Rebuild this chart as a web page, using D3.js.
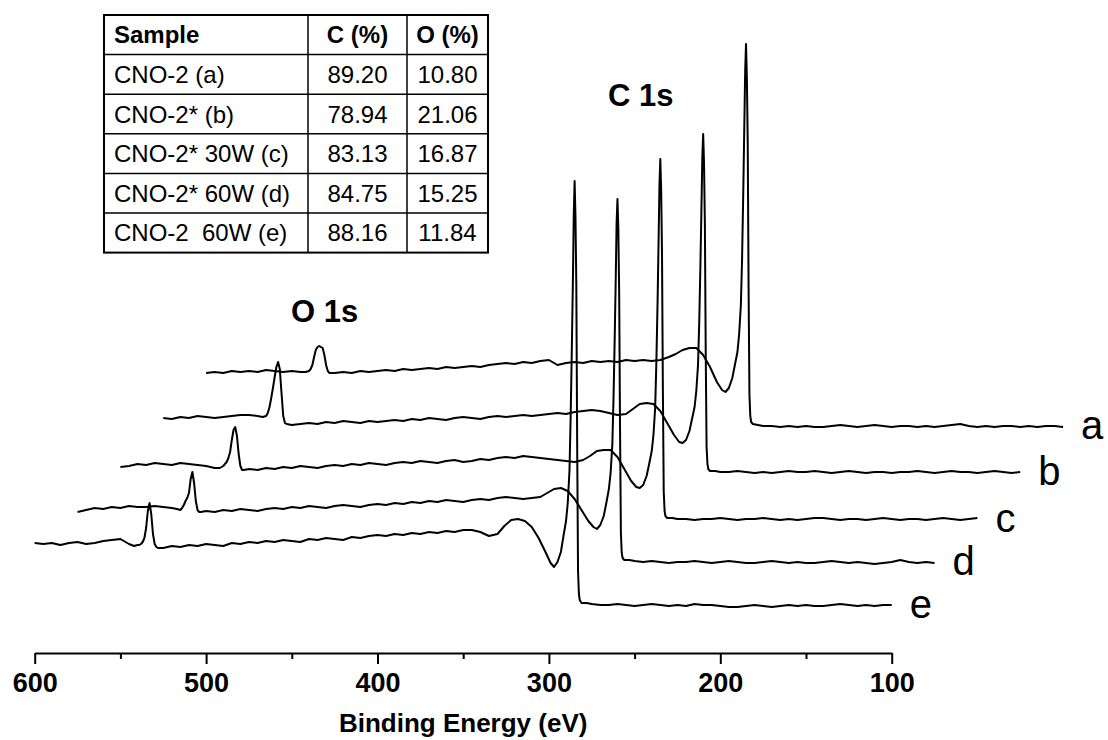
<!DOCTYPE html>
<html>
<head>
<meta charset="utf-8">
<script src="https://cdn.jsdelivr.net/npm/d3@7"></script>
<style>
  html, body { margin: 0; padding: 0; background: #fff; }
  svg { display: block; font-family: "Liberation Sans", Arial, Helvetica, sans-serif; }
</style>
</head>
<body>
<svg id="chart" width="1108" height="740"></svg>
<script>
// Binding-energy grid shared by all survey spectra (eV), dense around O 1s and C 1s
const energy = [
  600, 595, 590, 585, 580, 575, 570, 565, 560, 555, 550, 545,
  542, 540, 539, 538, 537, 536, 535, 534, 533, 532, 531, 530, 529, 528,
  525, 520, 515, 510, 505, 500, 495, 490, 485, 480, 475, 470, 465, 460, 455, 450, 445, 440, 435, 430,
  425, 420, 415, 410, 405, 400, 395, 390, 385, 380, 375, 370, 365, 360, 355, 350, 345, 340, 335,
  330, 326, 322, 318, 314, 310, 306, 302, 299, 297,
  295, 293, 291.5, 290, 289, 288, 287.3, 286.6, 286, 285.5, 285, 284.5, 284, 283.5, 283, 282.5, 282, 281,
  278, 275, 270, 265, 260, 255, 250, 245, 240, 235, 230, 225, 220, 215, 210, 205, 200, 195, 190, 185,
  180, 175, 170, 165, 160, 155, 150, 145, 140, 135, 130, 125, 120, 115, 110, 105, 100
];

// Intensity (a.u.) of each sample, relative to its own low-energy baseline
const intensityA = [
  54, 55, 54, 56, 55, 56, 55, 57, 56, 55, 56, 55,
  55, 56, 58, 62, 70, 77, 80, 81, 80, 79, 72, 62, 56, 54,
  54, 55, 54, 56, 55, 56, 57, 56, 58, 57, 58, 59, 58, 60, 59, 60, 61, 60, 62, 63,
  64, 63, 65, 64, 66, 67, 62, 64, 65, 64, 66, 65, 66, 65, 67, 66, 67, 66, 67,
  70, 73, 77, 79, 79, 72, 60, 45, 37, 35,
  39, 49, 62, 75, 93, 122, 168, 235, 300, 355, 383, 350, 285, 140, 32, 11, 5, 3,
  2, 1, 1, 0, 1, 0, 1, 0, 0, 1, 2, 1, 0, 1, 2, 1, 0, 1, 1, 0,
  1, 0, 1, 2, 3, 1, 0, 1, 0, 1, 1, 0, 1, 0, 1, 1, 0
];
const intensityB = [
  55, 54, 56, 55, 57, 56, 55, 56, 57, 58, 58, 57,
  56, 57, 60, 66, 75, 85, 96, 106, 111, 104, 80, 57, 50, 49,
  48, 49, 50, 49, 51, 50, 52, 51, 50, 52, 51, 52, 53, 52, 54, 53, 55, 54, 53, 55,
  56, 55, 54, 56, 57, 56, 57, 58, 57, 58, 59, 60, 59, 61, 62, 63, 62, 60, 58,
  59, 64, 69, 70, 69, 62, 50, 38, 31, 30,
  33, 42, 54, 66, 82, 108, 150, 208, 265, 315, 339, 310, 250, 120, 26, 9, 4, 2,
  2, 1, 1, 2, 1, 0, 1, 0, 1, 2, 1, 1, 2, 1, 0, 1, 2, 1, 0, 1,
  1, 0, 1, 1, 2, 1, 0, 1, 2, 1, 1, 0, 1, 2, 1, 0, 1
];
const intensityC = [
  53, 54, 56, 55, 57, 56, 55, 57, 56, 55, 54, 52,
  52, 54, 56, 58, 62, 68, 80, 90, 93, 84, 66, 54, 50, 50,
  51, 50, 52, 51, 53, 52, 54, 53, 52, 54, 55, 54, 56, 55, 57, 56, 55, 57, 58, 57,
  59, 58, 57, 59, 60, 58, 59, 61, 60, 62, 63, 62, 64, 63, 62, 61, 60, 59, 58,
  60, 64, 69, 70, 70, 63, 51, 39, 33, 32,
  35, 44, 56, 69, 85, 112, 158, 218, 280, 335, 361, 330, 265, 130, 28, 9, 4, 2,
  2, 1, 1, 0, 1, 1, 2, 1, 0, 1, 1, 2, 1, 0, 1, 0, 1, 2, 2, 1,
  0, 1, 1, 0, 1, 2, 1, 0, 1, 1, 0, 1, 2, 1, 0, 1, 2
];
const intensityD = [
  51, 53, 55, 54, 56, 55, 57, 56, 56, 57, 56, 55,
  54, 53, 55, 58, 62, 65, 70, 84, 91, 80, 62, 53, 51, 51,
  52, 51, 53, 52, 54, 53, 52, 54, 55, 54, 56, 55, 57, 56, 55, 57, 58, 57, 56, 58,
  59, 58, 60, 59, 61, 60, 62, 61, 63, 62, 61, 63, 64, 63, 65, 66, 65, 64, 65,
  66, 70, 74, 75, 72, 64, 53, 42, 36, 34,
  38, 47, 60, 74, 90, 118, 165, 225, 285, 340, 364, 335, 270, 135, 30, 10, 5, 3,
  3, 2, 1, 2, 1, 0, 1, 1, 2, 1, 0, 1, 2, 1, 0, 0, 1, 2, 1, 0,
  1, 0, 0, 1, 2, 1, 0, 1, 0, -1, 0, 1, 3, 1, 0, 1, 0
];
const intensityE = [
  63, 62, 63, 61, 63, 64, 62, 63, 65, 66, 67, 62,
  60, 61, 61, 62, 64, 68, 78, 95, 103, 92, 72, 62, 59, 58,
  58, 60, 59, 61, 60, 62, 61, 60, 63, 62, 64, 63, 65, 64, 66, 65, 64, 67, 66, 68,
  67, 66, 69, 68, 70, 71, 70, 72, 71, 73, 72, 74, 73, 75, 74, 76, 76, 74, 70,
  72, 80, 86, 87, 85, 79, 68, 54, 43, 39,
  44, 54, 70, 85, 103, 135, 190, 260, 325, 390, 425, 390, 320, 160, 35, 12, 6, 3,
  3, 2, 1, 1, 2, 1, 0, 1, 2, 1, 0, 1, 0, 2, 1, 1, 0, -1, -1, 0,
  1, 0, -1, 0, 1, 0, 1, 0, 0, 1, 2, 1, 0, 1, 0, 1, 1
];

const seriesNames = ["a", "b", "c", "d", "e"];
const seriesIntensity = [intensityA, intensityB, intensityC, intensityD, intensityE];
// Waterfall stacking: energy displacement (eV) and vertical offset (a.u.) per spectrum
const seriesShift = [100, 75, 50, 25, 0];
const seriesOffset = [179, 133, 86, 43, 0];

// Composition table
const tableHeader = ["Sample", "C (%)", "O (%)"];
const sampleNames = ["CNO-2 (a)", "CNO-2* (b)", "CNO-2* 30W (c)", "CNO-2* 60W (d)", "CNO-2  60W (e)"];
const carbonPct = [89.20, 78.94, 83.13, 84.75, 88.16];
const oxygenPct = [10.80, 21.06, 16.87, 15.25, 11.84];

// Axis ticks
const xTicks = [600, 500, 400, 300, 200, 100];
const xMinorTicks = [550, 450, 350, 250, 150];

const svg = d3.select("#chart");
const FONT = "'Liberation Sans', Arial, Helvetica, sans-serif";

const x = d3.scaleLinear().domain([600, 100]).range([34.7, 891.7]);
const y = d3.scaleLinear().domain([0, 600]).range([606, 6]);

const spectra = seriesNames.map((name, i) => ({
  name,
  shift: seriesShift[i],
  offset: seriesOffset[i],
  points: energy.map((e, j) => ({ e, v: seriesIntensity[i][j] }))
}));

// Spectra
const traces = svg.append("g").attr("class", "traces");
spectra.forEach(s => {
  const line = d3.line()
    .x(d => x(d.e - s.shift))
    .y(d => y(d.v + s.offset))
    .curve(d3.curveLinear);
  traces.append("path")
    .datum(s.points)
    .attr("d", line)
    .attr("fill", "none")
    .attr("stroke", "#000")
    .attr("stroke-width", 2)
    .attr("stroke-linejoin", "round");
});

// Series letters at the low-energy end of each trace
svg.append("g").selectAll("text")
  .data(spectra)
  .join("text")
  .attr("x", s => x(energy[energy.length - 1] - s.shift) + 18)
  .attr("y", s => y(s.offset) + 12)
  .attr("font-family", FONT)
  .attr("font-size", 40)
  .attr("fill", "#000")
  .text(s => s.name);

// Peak annotations
svg.append("text")
  .attr("x", 608).attr("y", 106)
  .attr("font-family", FONT).attr("font-size", 31).attr("font-weight", "bold")
  .text("C 1s");
svg.append("text")
  .attr("x", 291).attr("y", 322)
  .attr("font-family", FONT).attr("font-size", 31).attr("font-weight", "bold")
  .text("O 1s");

// Bottom axis
const axisY = 653;
const axisG = svg.append("g")
  .attr("transform", `translate(0,${axisY})`)
  .call(d3.axisBottom(x).tickValues(xTicks).tickSize(11).tickSizeOuter(0).tickFormat(d3.format("d")));
axisG.attr("font-family", FONT).attr("font-size", 27).attr("font-weight", "bold");
axisG.select(".domain").attr("stroke-width", 2);
axisG.selectAll(".tick line").attr("stroke-width", 2);
axisG.selectAll(".tick text").attr("y", 39).attr("dy", null).attr("fill", "#000");

const minorG = svg.append("g")
  .attr("transform", `translate(0,${axisY})`)
  .call(d3.axisBottom(x).tickValues(xMinorTicks).tickSize(6).tickSizeOuter(0).tickFormat(""));
minorG.select(".domain").remove();
minorG.selectAll(".tick line").attr("stroke-width", 2);

svg.append("text")
  .attr("x", x(350)).attr("y", 732)
  .attr("text-anchor", "middle")
  .attr("font-family", FONT).attr("font-size", 26).attr("font-weight", "bold")
  .text("Binding Energy (eV)");

// Composition table
const colEdges = [104, 308, 407, 488];
const rowTop = 15, rowH = 39.6;
const rows = [tableHeader].concat(sampleNames.map((n, i) => [n, carbonPct[i].toFixed(2), oxygenPct[i].toFixed(2)]));
const tableG = svg.append("g").attr("class", "table");

rows.forEach((row, r) => {
  row.forEach((cell, c) => {
    const t = tableG.append("text")
      .attr("y", rowTop + r * rowH + 28.3)
      .attr("font-family", FONT)
      .attr("font-size", 24)
      .attr("font-weight", r === 0 ? "bold" : "normal")
      .style("white-space", "pre")
      .text(cell);
    if (c === 0) {
      t.attr("x", colEdges[0] + 10);
    } else {
      t.attr("x", (colEdges[c] + colEdges[c + 1]) / 2).attr("text-anchor", "middle");
    }
  });
});

for (let r = 1; r < rows.length; r++) {
  tableG.append("line")
    .attr("x1", colEdges[0]).attr("x2", colEdges[3])
    .attr("y1", rowTop + r * rowH).attr("y2", rowTop + r * rowH)
    .attr("stroke", "#000").attr("stroke-width", 1.5);
}
[colEdges[1], colEdges[2]].forEach(cx => {
  tableG.append("line")
    .attr("x1", cx).attr("x2", cx)
    .attr("y1", rowTop).attr("y2", rowTop + rows.length * rowH)
    .attr("stroke", "#000").attr("stroke-width", 1.5);
});
tableG.append("rect")
  .attr("x", colEdges[0]).attr("y", rowTop)
  .attr("width", colEdges[3] - colEdges[0])
  .attr("height", rows.length * rowH)
  .attr("fill", "none").attr("stroke", "#000").attr("stroke-width", 2);
</script>
</body>
</html>
